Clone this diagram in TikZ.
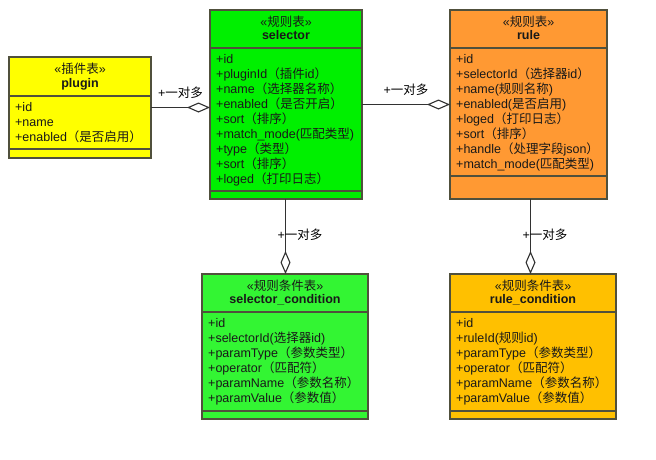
\documentclass[tikz,border=0pt]{standalone}
\usepackage{fontspec}
\setmainfont{Liberation Sans}
\newfontfamily\cjkfont{Noto Sans CJK SC}
\newcommand{\zh}[1]{{\cjkfont #1}}
\usetikzlibrary{arrows.meta}
\definecolor{pluginfill}{RGB}{255,255,0}
\definecolor{selectorfill}{RGB}{0,240,0}
\definecolor{selcondfill}{RGB}{51,245,51}
\definecolor{rulefill}{RGB}{255,153,51}
\definecolor{rulecondfill}{RGB}{255,192,0}
\definecolor{boxline}{RGB}{80,80,60}
\definecolor{connline}{RGB}{50,50,50}
\definecolor{textcol}{RGB}{25,25,25}
\tikzset{
  classbox/.style={draw=boxline, line width=1.5pt, anchor=north west, inner sep=0pt, outer sep=0pt},
  divider/.style={draw=boxline, line width=1.5pt},
  attr/.style={anchor=base west, inner sep=0pt, text=textcol, font=\fontsize{12.5pt}{15pt}\selectfont},
  stereo/.style={anchor=base, inner sep=0pt, text=textcol, font=\fontsize{12.5pt}{15pt}\selectfont},
  classname/.style={anchor=base, inner sep=0pt, text=textcol, font=\fontsize{12.5pt}{15pt}\selectfont\bfseries},
  assoc/.style={draw=connline, line width=1.1pt, -{Diamond[open, length=23pt, width=10pt]}},
  mult/.style={inner sep=0pt, font=\fontsize{12.5pt}{15pt}\selectfont},
}
\begin{document}
\begin{tikzpicture}[x=1pt, y=-1pt]
  \fill[white] (0,0) rectangle (656,459);
  \useasboundingbox (0,0) rectangle (656,459);

  % plugin
  \node[classbox, fill=pluginfill, minimum width=142pt, minimum height=101pt] (plugin) at (9,57) {};
  \draw[divider] ([yshift=-39pt]plugin.north west) -- ([yshift=-39pt]plugin.north east);
  \draw[divider] ([yshift=-92pt]plugin.north west) -- ([yshift=-92pt]plugin.north east);
  \node[stereo] (plugin-st) at ([yshift=-16.5pt]plugin.north) {«\zh{插件表}»};
  \node[classname] (plugin-nm) at ([yshift=-30pt]plugin.north) {plugin};
  \foreach \t [count=\i] in {+id, +name, +enabled\zh{（是否启用）}}
    \node[attr] (plugin-a\i) at ([xshift=6pt, yshift={-39pt-\i*15pt}]plugin.north west) {\t};

  % selector
  \node[classbox, fill=selectorfill, minimum width=152pt, minimum height=189pt] (selector) at (210,10) {};
  \draw[divider] ([yshift=-38pt]selector.north west) -- ([yshift=-38pt]selector.north east);
  \draw[divider] ([yshift=-181pt]selector.north west) -- ([yshift=-181pt]selector.north east);
  \node[stereo] (selector-st) at ([yshift=-16pt]selector.north) {«\zh{规则表}»};
  \node[classname] (selector-nm) at ([yshift=-29.5pt]selector.north) {selector};
  \foreach \t [count=\i] in {+id, +pluginId\zh{（插件}id\zh{）}, +name\zh{（选择器名称）},
      +enabled\zh{（是否开启）}, +sort\zh{（排序）}, +match\_mode(\zh{匹配类型}),
      +type\zh{（类型）}, +sort\zh{（排序）}, +loged\zh{（打印日志）}}
    \node[attr] (selector-a\i) at ([xshift=6pt, yshift={-38pt-\i*15pt}]selector.north west) {\t};

  % rule
  \node[classbox, fill=rulefill, minimum width=157pt, minimum height=189pt] (rule) at (450,10) {};
  \draw[divider] ([yshift=-38pt]rule.north west) -- ([yshift=-38pt]rule.north east);
  \draw[divider] ([yshift=-166pt]rule.north west) -- ([yshift=-166pt]rule.north east);
  \node[stereo] (rule-st) at ([yshift=-16pt]rule.north) {«\zh{规则表}»};
  \node[classname] (rule-nm) at ([yshift=-29.5pt]rule.north) {rule};
  \foreach \t [count=\i] in {+id, +selectorId\zh{（选择器}id\zh{）}, +name(\zh{规则名称}),
      +enabled(\zh{是否启用}), +loged\zh{（打印日志）}, +sort\zh{（排序）},
      +handle\zh{（处理字段}json\zh{）}, +match\_mode(\zh{匹配类型})}
    \node[attr] (rule-a\i) at ([xshift=6pt, yshift={-38pt-\i*15pt}]rule.north west) {\t};

  % selector_condition
  \node[classbox, fill=selcondfill, minimum width=166pt, minimum height=145pt] (selcond) at (202,274) {};
  \draw[divider] ([yshift=-38pt]selcond.north west) -- ([yshift=-38pt]selcond.north east);
  \draw[divider] ([yshift=-137pt]selcond.north west) -- ([yshift=-137pt]selcond.north east);
  \node[stereo] (selcond-st) at ([yshift=-16pt]selcond.north) {«\zh{规则条件表}»};
  \node[classname] (selcond-nm) at ([yshift=-29.5pt]selcond.north) {selector\_condition};
  \foreach \t [count=\i] in {+id, +selectorId(\zh{选择器}id), +paramType\zh{（参数类型）},
      +operator\zh{（匹配符）}, +paramName\zh{（参数名称）}, +paramValue\zh{（参数值）}}
    \node[attr] (selcond-a\i) at ([xshift=6pt, yshift={-38pt-\i*15pt}]selcond.north west) {\t};

  % rule_condition
  \node[classbox, fill=rulecondfill, minimum width=166pt, minimum height=145pt] (rulecond) at (450,274) {};
  \draw[divider] ([yshift=-38pt]rulecond.north west) -- ([yshift=-38pt]rulecond.north east);
  \draw[divider] ([yshift=-137pt]rulecond.north west) -- ([yshift=-137pt]rulecond.north east);
  \node[stereo] (rulecond-st) at ([yshift=-16pt]rulecond.north) {«\zh{规则条件表}»};
  \node[classname] (rulecond-nm) at ([yshift=-29.5pt]rulecond.north) {rule\_condition};
  \foreach \t [count=\i] in {+id, +ruleId(\zh{规则}id), +paramType\zh{（参数类型）},
      +operator\zh{（匹配符）}, +paramName\zh{（参数名称）}, +paramValue\zh{（参数值）}}
    \node[attr] (rulecond-a\i) at ([xshift=6pt, yshift={-38pt-\i*15pt}]rulecond.north west) {\t};

  % associations
  \draw[assoc] (plugin.east) -- (plugin.east -| selector.west)
    node[mult, midway, above=8pt] (m1) {+\zh{一对多}};
  \draw[assoc] (selector.east) -- (rule.west)
    node[mult, midway, above=8pt] (m2) {+\zh{一对多}};
  \draw[assoc] ([xshift=-0.5pt]selector.south) -- ([xshift=-0.5pt]selector.south |- selcond.north)
    node[mult, pos=0.47, anchor=west, xshift=-8.5pt] (m3) {+\zh{一对多}};
  \draw[assoc] ([xshift=2pt]rule.south) -- ([xshift=2pt]rule.south |- rulecond.north)
    node[mult, pos=0.47, anchor=west, xshift=-8.5pt] (m4) {+\zh{一对多}};
\end{tikzpicture}
\end{document}
